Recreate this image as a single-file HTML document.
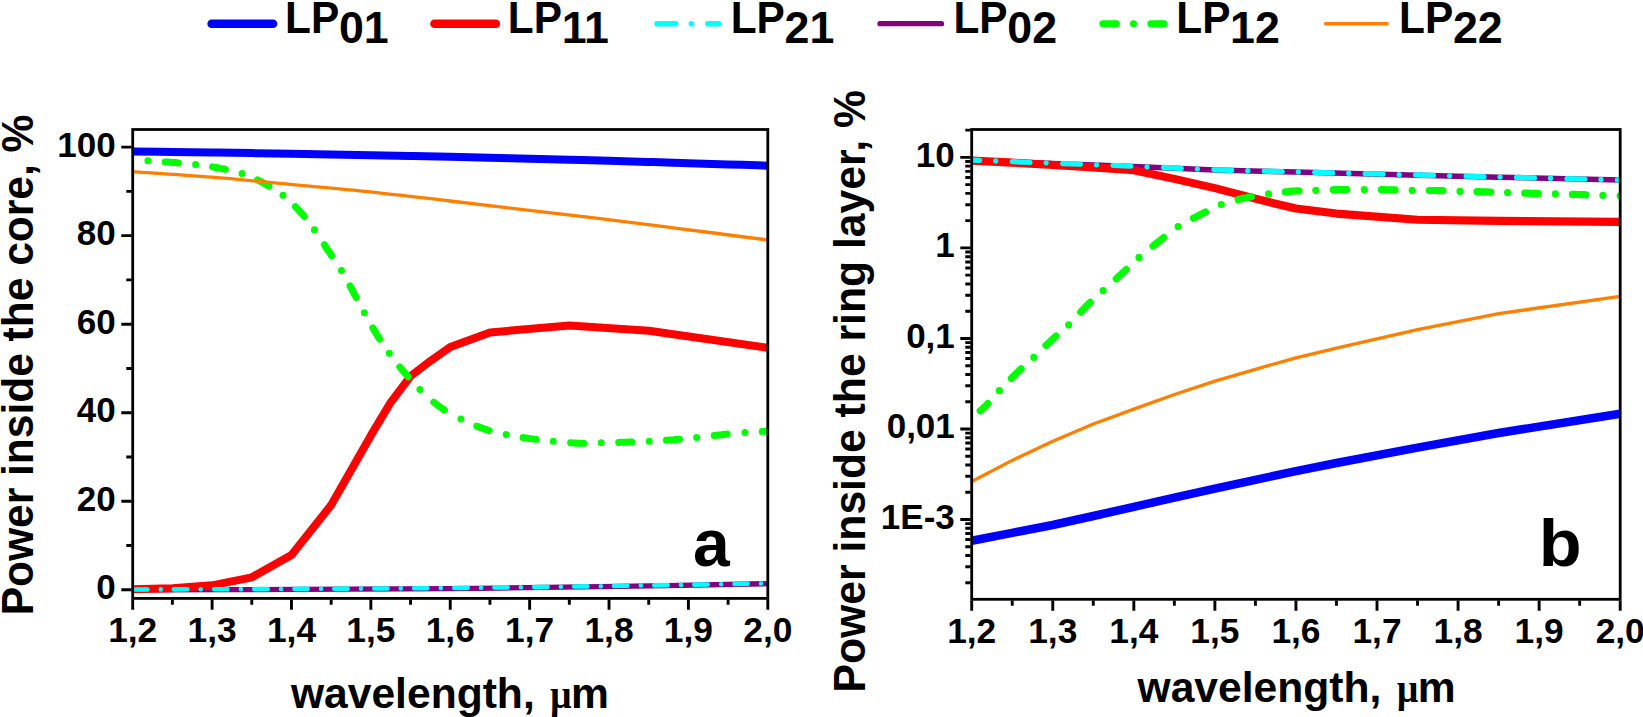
<!DOCTYPE html>
<html lang="en"><head><meta charset="utf-8"><title>LP modes power</title>
<style>html,body{margin:0;padding:0;background:#fff;}svg{display:block;}text{font-family:"Liberation Sans", Arial, Helvetica, sans-serif;font-weight:bold;fill:#000;}</style>
</head><body>
<svg width="1643" height="717" viewBox="0 0 1643 717">
<rect width="1643" height="717" fill="#fff"/>
<defs>
<clipPath id="ca"><rect x="132.70" y="129.50" width="635.10" height="468.90"/></clipPath>
<clipPath id="cb"><rect x="971.70" y="129.50" width="648.50" height="469.80"/></clipPath>
</defs>
<line x1="211.60" y1="23.70" x2="273.10" y2="23.70" stroke="#0000ff" stroke-width="8.50" stroke-linecap="round"/>
<text transform="translate(285.06,33.00) scale(0.9750,1)" font-size="43.5">LP</text>
<text transform="translate(338.90,42.80) scale(1.0170,1)" font-size="44">01</text>
<line x1="434.40" y1="23.70" x2="495.90" y2="23.70" stroke="#ff0000" stroke-width="8.50" stroke-linecap="round"/>
<text transform="translate(507.86,33.00) scale(0.9750,1)" font-size="43.5">LP</text>
<text transform="translate(561.70,42.80) scale(1.0170,1)" font-size="44">11</text>
<path d="M657.0,23.70 H675.5 M691.4,23.70 h0.01 M708.0,23.70 H718.7" stroke="#00ffff" stroke-width="5.60" stroke-linecap="round" fill="none"/>
<text transform="translate(730.66,33.00) scale(0.9750,1)" font-size="43.5">LP</text>
<text transform="translate(784.50,42.80) scale(1.0170,1)" font-size="44">21</text>
<line x1="880.00" y1="23.70" x2="941.50" y2="23.70" stroke="#800080" stroke-width="5.30" stroke-linecap="round"/>
<text transform="translate(953.46,33.00) scale(0.9750,1)" font-size="43.5">LP</text>
<text transform="translate(1007.30,42.80) scale(1.0170,1)" font-size="44">02</text>
<path d="M1102.8,23.70 H1116.4 M1133.5,23.70 h0.01 M1150.8,23.70 H1164.0" stroke="#00ff00" stroke-width="7.00" stroke-linecap="round" fill="none"/>
<text transform="translate(1176.26,33.00) scale(0.9750,1)" font-size="43.5">LP</text>
<text transform="translate(1230.10,42.80) scale(1.0170,1)" font-size="44">12</text>
<line x1="1325.60" y1="23.70" x2="1387.10" y2="23.70" stroke="#ff8000" stroke-width="3.50" stroke-linecap="round"/>
<text transform="translate(1399.06,33.00) scale(0.9750,1)" font-size="43.5">LP</text>
<text transform="translate(1452.90,42.80) scale(1.0170,1)" font-size="44">22</text>
<g clip-path="url(#ca)" fill="none" stroke-linejoin="round">
<path d="M132.70,589.80 C160.58,589.73 247.12,589.60 300.00,589.40 C352.88,589.20 400.00,589.05 450.00,588.60 C500.00,588.15 547.03,587.52 600.00,586.70 C652.97,585.88 739.83,584.20 767.80,583.70" stroke="#800080" stroke-width="5.30"/>
<path d="M132.70,151.53 C139.32,151.61 159.16,151.83 172.39,152.00 C185.63,152.16 198.86,152.34 212.09,152.52 C225.32,152.71 238.55,152.90 251.78,153.10 C265.01,153.31 278.24,153.52 291.47,153.74 C304.71,153.96 317.94,154.19 331.17,154.43 C344.40,154.67 357.63,154.92 370.86,155.18 C384.09,155.44 397.32,155.70 410.56,155.98 C423.79,156.26 437.02,156.54 450.25,156.84 C463.48,157.13 476.71,157.44 489.94,157.75 C503.17,158.07 516.41,158.39 529.64,158.72 C542.87,159.05 556.10,159.39 569.33,159.74 C582.56,160.10 595.79,160.45 609.02,160.82 C622.26,161.19 635.49,161.57 648.72,161.96 C661.95,162.35 675.18,162.74 688.41,163.15 C701.64,163.55 714.87,163.97 728.11,164.39 C741.34,164.82 761.18,165.48 767.80,165.69" stroke="#0000ff" stroke-width="8.00"/>
<path d="M132.70,589.20 L172.40,588.30 L212.10,585.30 L251.80,577.30 L291.50,555.00 L331.20,505.10 L370.90,435.40 L390.75,402.30 L410.60,376.20 L430.45,360.90 L450.30,346.90 L490.00,332.40 L569.40,325.50 L648.80,330.80 L767.80,347.80" stroke="#ff0000" stroke-width="8.00"/>
<path d="M132.70,589.50 C160.58,589.40 247.12,589.15 300.00,588.90 C352.88,588.65 400.00,588.45 450.00,588.00 C500.00,587.55 547.03,586.97 600.00,586.20 C652.97,585.43 739.83,583.87 767.80,583.40" stroke="#00ffff" stroke-width="4.60" stroke-linecap="round" stroke-dasharray="13.3 13.35 0.01 13.35" stroke-dashoffset="-1.5"/>
<path d="M147.9,160.7 h0.01 M165.2,161.9 L167.5,162.1 L170.1,162.3 L172.6,162.4 L175.0,162.6 L177.3,162.8 L178.3,162.9 M195.6,164.5 h0.01 M212.6,166.8 L214.9,167.3 L217.3,167.7 L219.6,168.1 L221.9,168.6 L224.3,169.0 L225.4,169.3 M242.0,173.5 h0.01 M257.5,179.9 L259.4,180.9 L261.5,182.0 L263.5,183.1 L265.6,184.2 L267.7,185.4 L269.0,186.1 M283.0,195.3 h0.01 M295.4,206.6 L297.1,208.5 L298.7,210.1 L300.3,211.9 L301.8,213.6 L303.4,215.4 L304.2,216.4 M314.4,229.7 h0.01 M324.4,244.7 L325.6,246.7 L327.0,248.8 L328.3,250.8 L329.7,252.8 L331.1,254.9 L331.6,255.6 M341.5,270.6 h0.01 M350.0,285.8 L351.0,287.8 L352.1,289.9 L353.3,292.0 L354.4,294.1 L355.5,296.3 L356.1,297.4 M364.3,312.8 h0.01 M372.8,327.8 L374.0,329.9 L375.3,332.0 L376.5,334.0 L377.7,336.0 L379.0,338.0 L379.6,339.0 M389.3,353.2 h0.01 M399.8,366.9 L401.3,368.8 L402.9,370.6 L404.4,372.5 L405.9,374.3 L407.4,376.0 L408.2,376.9 M419.9,389.6 h0.01 M433.8,402.2 L435.9,403.9 L437.9,405.5 L440.0,407.0 L442.1,408.4 L444.1,409.8 L444.4,409.9 M460.9,418.9 h0.01 M476.8,426.2 L479.1,427.1 L481.3,427.9 L483.6,428.7 L485.8,429.4 L488.1,430.2 L489.1,430.5 M506.1,434.6 h0.01 M523.1,437.6 L525.3,437.9 L527.6,438.3 L530.0,438.6 L532.3,438.9 L534.7,439.2 L536.1,439.4 M553.2,441.2 h0.01 M570.6,442.8 L573.1,443.0 L575.6,443.1 L578.0,443.2 L580.4,443.3 L582.7,443.3 L583.7,443.3 M601.2,442.8 h0.01 M618.7,442.4 L620.8,442.3 L623.2,442.3 L625.6,442.2 L628.0,442.1 L630.4,442.0 L631.8,442.0 M649.2,441.3 h0.01 M666.4,440.3 L668.9,440.1 L671.2,439.9 L673.6,439.8 L676.0,439.5 L678.3,439.3 L679.5,439.2 M696.6,437.4 h0.01 M714.2,435.4 L716.4,435.2 L718.8,434.9 L721.2,434.7 L723.7,434.4 L726.2,434.2 L727.2,434.1 M744.9,432.6 h0.01 M762.2,431.4 L764.2,431.2 L766.4,431.1 L767.8,431.0" stroke="#00ff00" stroke-width="7.00" stroke-linecap="round"/>
<path d="M132.70,171.60 C145.92,172.53 185.67,175.07 212.00,177.20 C238.33,179.33 264.37,181.97 290.70,184.40 C317.03,186.83 343.45,189.03 370.00,191.80 C396.55,194.57 424.50,198.03 450.00,201.00 C475.50,203.97 498.63,206.75 523.00,209.60 C547.37,212.45 569.87,214.90 596.20,218.10 C622.53,221.30 652.40,225.15 681.00,228.80 C709.60,232.45 753.33,238.13 767.80,240.00" stroke="#ff8000" stroke-width="3.30"/>
</g>
<g clip-path="url(#cb)" fill="none" stroke-linejoin="round">
<path d="M971.70,160.30 L1052.80,163.40 L1133.80,166.40 L1214.90,170.00 L1295.90,172.10 L1417.50,175.20 L1498.60,177.20 L1620.20,180.10" stroke="#800080" stroke-width="5.50"/>
<path d="M971.70,540.80 L1012.20,532.80 L1052.80,525.00 L1093.30,516.00 L1133.80,506.80 L1174.40,497.60 L1214.90,488.60 L1255.40,479.80 L1295.90,471.20 L1336.50,463.00 L1417.50,447.60 L1498.60,433.00 L1620.20,413.80" stroke="#0000ff" stroke-width="8.50"/>
<path d="M971.70,160.60 L1012.20,162.60 L1052.80,165.00 L1093.30,167.40 L1133.80,170.30 L1174.40,178.90 L1214.90,188.10 L1235.10,193.40 L1255.40,198.70 L1275.70,203.70 L1295.90,208.50 L1336.50,213.60 L1417.50,219.80 L1498.60,220.90 L1620.20,221.90" stroke="#ff0000" stroke-width="8.10"/>
<path d="M971.70,160.10 L1052.80,163.20 L1133.80,166.20 L1214.90,169.80 L1295.90,171.90 L1417.50,175.00 L1498.60,177.00 L1620.20,179.90" stroke="#00ffff" stroke-width="5.30" stroke-linecap="round" stroke-dasharray="17.8 16.15 0.01 16.5" stroke-dashoffset="9.9"/>
<path d="M980.3,410.7 L982.0,409.3 L983.5,407.9 L985.1,406.5 L986.7,404.9 L987.9,403.6 M999.4,390.7 h0.01 M1011.4,378.4 L1013.1,376.7 L1014.9,374.9 L1016.6,373.2 L1018.3,371.6 L1020.0,369.9 L1021.1,368.9 M1033.8,357.3 h0.01 M1046.0,345.4 L1047.7,343.8 L1049.5,342.1 L1051.3,340.4 L1053.0,338.8 L1054.7,337.3 L1056.0,336.1 M1068.7,324.8 h0.01 M1080.7,312.1 L1082.4,310.2 L1084.1,308.4 L1085.9,306.6 L1087.6,304.9 L1089.3,303.3 L1090.2,302.4 M1103.1,290.6 h0.01 M1116.3,278.8 L1118.0,277.2 L1119.9,275.6 L1121.7,273.9 L1123.5,272.2 L1125.2,270.6 L1126.2,269.6 M1139.0,257.4 h0.01 M1153.0,246.0 L1155.1,244.4 L1157.0,242.9 L1159.0,241.3 L1161.0,239.7 L1163.0,238.1 L1163.7,237.5 M1178.1,226.6 h0.01 M1193.4,218.2 L1195.4,217.2 L1197.5,216.1 L1199.7,215.0 L1201.9,213.9 L1204.0,212.8 L1205.5,212.0 M1221.3,204.5 h0.01 M1238.1,199.6 L1240.2,199.1 L1242.6,198.5 L1245.0,198.0 L1247.4,197.5 L1249.7,197.0 L1251.3,196.7 M1268.6,193.9 h0.01 M1285.4,191.8 L1287.6,191.6 L1290.0,191.3 L1292.4,191.1 L1294.8,191.0 L1297.1,190.8 L1298.9,190.8 M1315.8,190.3 h0.01 M1333.2,189.8 L1335.4,189.7 L1337.9,189.7 L1340.4,189.6 L1342.8,189.6 L1345.2,189.6 L1346.8,189.5 M1364.3,189.6 h0.01 M1381.5,189.7 L1384.1,189.7 L1386.6,189.8 L1389.0,189.8 L1391.4,189.8 L1393.7,189.9 L1395.1,189.9 M1412.2,190.3 h0.01 M1429.3,190.5 L1431.5,190.5 L1434.0,190.5 L1436.5,190.6 L1438.9,190.6 L1441.2,190.7 L1442.9,190.7 M1460.0,191.3 h0.01 M1477.0,191.7 L1479.1,191.7 L1481.6,191.8 L1484.1,191.9 L1486.5,191.9 L1488.8,192.0 L1490.6,192.1 M1507.6,192.6 h0.01 M1524.7,193.1 L1526.8,193.1 L1529.3,193.2 L1531.8,193.3 L1534.2,193.3 L1536.5,193.4 L1538.3,193.4 M1555.4,193.9 h0.01 M1572.4,194.4 L1574.8,194.4 L1577.3,194.5 L1579.7,194.6 L1582.1,194.7 L1584.5,194.7 L1585.9,194.8 M1602.9,195.3 h0.01 M1620.2,195.8 L1620.2,195.8" stroke="#00ff00" stroke-width="7.20" stroke-linecap="round"/>
<path d="M971.70,481.50 L1012.20,460.40 L1052.80,441.30 L1093.30,424.00 L1133.80,409.10 L1174.40,394.50 L1214.90,381.10 L1255.40,369.30 L1295.90,357.80 L1336.50,348.10 L1417.50,329.60 L1498.60,313.60 L1620.20,296.40" stroke="#ff8000" stroke-width="3.30"/>
</g>
<rect x="132.70" y="129.50" width="635.10" height="468.90" fill="none" stroke="#000" stroke-width="2.80"/>
<rect x="971.70" y="129.50" width="648.50" height="469.80" fill="none" stroke="#000" stroke-width="2.80"/>
<path d="M132.70,599.50 v10.30 M971.70,600.40 v10.30 M172.39,599.50 v5.30 M1012.23,600.40 v5.30 M212.09,599.50 v10.30 M1052.76,600.40 v10.30 M251.78,599.50 v5.30 M1093.29,600.40 v5.30 M291.47,599.50 v10.30 M1133.83,600.40 v10.30 M331.17,599.50 v5.30 M1174.36,600.40 v5.30 M370.86,599.50 v10.30 M1214.89,600.40 v10.30 M410.56,599.50 v5.30 M1255.42,600.40 v5.30 M450.25,599.50 v10.30 M1295.95,600.40 v10.30 M489.94,599.50 v5.30 M1336.48,600.40 v5.30 M529.64,599.50 v10.30 M1377.01,600.40 v10.30 M569.33,599.50 v5.30 M1417.54,600.40 v5.30 M609.02,599.50 v10.30 M1458.08,600.40 v10.30 M648.72,599.50 v5.30 M1498.61,600.40 v5.30 M688.41,599.50 v10.30 M1539.14,600.40 v10.30 M728.11,599.50 v5.30 M1579.67,600.40 v5.30 M767.80,599.50 v10.30 M1620.20,600.40 v10.30 M131.60,589.80 h-10.30 M131.60,545.53 h-5.30 M131.60,501.26 h-10.30 M131.60,456.99 h-5.30 M131.60,412.72 h-10.30 M131.60,368.45 h-5.30 M131.60,324.18 h-10.30 M131.60,279.91 h-5.30 M131.60,235.64 h-10.30 M131.60,191.37 h-5.30 M131.60,147.10 h-10.30 M970.60,582.75 h-5.30 M970.60,566.81 h-5.30 M970.60,555.50 h-5.30 M970.60,546.73 h-5.30 M970.60,539.56 h-5.30 M970.60,533.50 h-5.30 M970.60,528.25 h-5.30 M970.60,523.62 h-5.30 M970.60,519.48 h-10.30 M970.60,492.23 h-5.30 M970.60,476.29 h-5.30 M970.60,464.98 h-5.30 M970.60,456.21 h-5.30 M970.60,449.04 h-5.30 M970.60,442.98 h-5.30 M970.60,437.73 h-5.30 M970.60,433.10 h-5.30 M970.60,428.96 h-10.30 M970.60,401.71 h-5.30 M970.60,385.77 h-5.30 M970.60,374.46 h-5.30 M970.60,365.69 h-5.30 M970.60,358.52 h-5.30 M970.60,352.46 h-5.30 M970.60,347.21 h-5.30 M970.60,342.58 h-5.30 M970.60,338.44 h-10.30 M970.60,311.19 h-5.30 M970.60,295.25 h-5.30 M970.60,283.94 h-5.30 M970.60,275.17 h-5.30 M970.60,268.00 h-5.30 M970.60,261.94 h-5.30 M970.60,256.69 h-5.30 M970.60,252.06 h-5.30 M970.60,247.92 h-10.30 M970.60,220.67 h-5.30 M970.60,204.73 h-5.30 M970.60,193.42 h-5.30 M970.60,184.65 h-5.30 M970.60,177.48 h-5.30 M970.60,171.42 h-5.30 M970.60,166.17 h-5.30 M970.60,161.54 h-5.30 M970.60,157.40 h-10.30 M970.60,130.15 h-5.30" stroke="#000" stroke-width="2.90" fill="none"/>
<text transform="translate(132.70,641.50) scale(1.0100,1)" font-size="35" text-anchor="middle">1,2</text>
<text transform="translate(971.70,642.50) scale(1.0100,1)" font-size="35" text-anchor="middle">1,2</text>
<text transform="translate(212.09,641.50) scale(1.0100,1)" font-size="35" text-anchor="middle">1,3</text>
<text transform="translate(1052.76,642.50) scale(1.0100,1)" font-size="35" text-anchor="middle">1,3</text>
<text transform="translate(291.47,641.50) scale(1.0100,1)" font-size="35" text-anchor="middle">1,4</text>
<text transform="translate(1133.83,642.50) scale(1.0100,1)" font-size="35" text-anchor="middle">1,4</text>
<text transform="translate(370.86,641.50) scale(1.0100,1)" font-size="35" text-anchor="middle">1,5</text>
<text transform="translate(1214.89,642.50) scale(1.0100,1)" font-size="35" text-anchor="middle">1,5</text>
<text transform="translate(450.25,641.50) scale(1.0100,1)" font-size="35" text-anchor="middle">1,6</text>
<text transform="translate(1295.95,642.50) scale(1.0100,1)" font-size="35" text-anchor="middle">1,6</text>
<text transform="translate(529.64,641.50) scale(1.0100,1)" font-size="35" text-anchor="middle">1,7</text>
<text transform="translate(1377.01,642.50) scale(1.0100,1)" font-size="35" text-anchor="middle">1,7</text>
<text transform="translate(609.02,641.50) scale(1.0100,1)" font-size="35" text-anchor="middle">1,8</text>
<text transform="translate(1458.08,642.50) scale(1.0100,1)" font-size="35" text-anchor="middle">1,8</text>
<text transform="translate(688.41,641.50) scale(1.0100,1)" font-size="35" text-anchor="middle">1,9</text>
<text transform="translate(1539.14,642.50) scale(1.0100,1)" font-size="35" text-anchor="middle">1,9</text>
<text transform="translate(767.80,641.50) scale(1.0100,1)" font-size="35" text-anchor="middle">2,0</text>
<text transform="translate(1620.20,642.50) scale(1.0100,1)" font-size="35" text-anchor="middle">2,0</text>
<text transform="translate(115.70,599.40)" font-size="35" text-anchor="end">0</text>
<text transform="translate(115.70,510.86)" font-size="35" text-anchor="end">20</text>
<text transform="translate(115.70,422.32)" font-size="35" text-anchor="end">40</text>
<text transform="translate(115.70,333.78)" font-size="35" text-anchor="end">60</text>
<text transform="translate(115.70,245.24)" font-size="35" text-anchor="end">80</text>
<text transform="translate(115.70,156.70)" font-size="35" text-anchor="end">100</text>
<text transform="translate(954.80,166.60)" font-size="35" text-anchor="end">10</text>
<text transform="translate(954.80,257.12)" font-size="35" text-anchor="end">1</text>
<text transform="translate(954.80,347.64)" font-size="35" text-anchor="end">0,1</text>
<text transform="translate(954.80,438.16)" font-size="35" text-anchor="end">0,01</text>
<text transform="translate(954.80,528.68)" font-size="35" text-anchor="end">1E-3</text>
<text transform="translate(290.92,708.20)" font-size="42.6">wavelength,</text>
<text transform="translate(550.09,708.20) scale(0.884,1)" font-size="42.6" style="font-family:'Liberation Serif','DejaVu Serif',serif">&#181;</text>
<text transform="translate(571.12,708.20)" font-size="42.6">m</text>
<text transform="translate(1137.52,702.00)" font-size="42.6">wavelength,</text>
<text transform="translate(1396.69,702.00) scale(0.884,1)" font-size="42.6" style="font-family:'Liberation Serif','DejaVu Serif',serif">&#181;</text>
<text transform="translate(1417.72,702.00)" font-size="42.6">m</text>
<text transform="translate(33.20,615.34) rotate(-90) scale(0.9660,1)" font-size="44">Power inside the core, %</text>
<text transform="translate(864.65,692.41) rotate(-90) scale(0.9700,1)" font-size="44">Power inside the ring layer, %</text>
<text transform="translate(693.00,566.00)" font-size="66">a</text>
<text transform="translate(1538.80,566.10) scale(1.0400,1)" font-size="67.5">b</text>
</svg></body></html>
